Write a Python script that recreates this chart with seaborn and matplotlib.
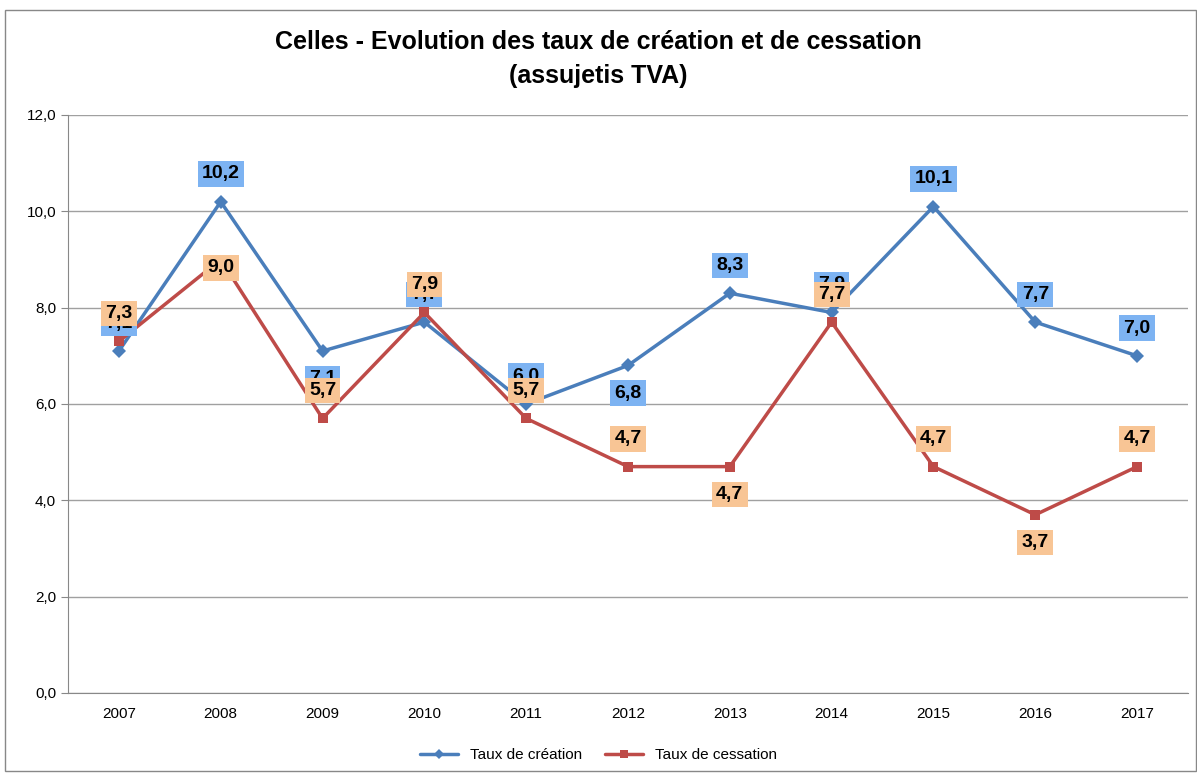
import pandas as pd
import numpy as np
import matplotlib
matplotlib.use("Agg")
import matplotlib.pyplot as plt
import seaborn as sns
from matplotlib.patches import Rectangle

# Données
annees = ['2007', '2008', '2009', '2010', '2011', '2012', '2013', '2014', '2015', '2016', '2017']
taux_creation = [7.1, 10.2, 7.1, 7.7, 6.0, 6.8, 8.3, 7.9, 10.1, 7.7, 7.0]
taux_cessation = [7.3, 9.0, 5.7, 7.9, 5.7, 4.7, 4.7, 7.7, 4.7, 3.7, 4.7]

# Position des étiquettes (1 = au-dessus, -1 = en dessous)
pos_creation = [1, 1, -1, 1, 1, -1, 1, 1, 1, 1, 1]
pos_cessation = [1, -0.3, 1, 1, 1, 1, -1, 1, 1, -1, 1]

df = pd.DataFrame({
    'annee': annees * 2,
    'taux': taux_creation + taux_cessation,
    'serie': ['Taux de création'] * len(annees) + ['Taux de cessation'] * len(annees),
})

sns.set_style("white")
plt.rcParams['font.family'] = ['Liberation Sans', 'DejaVu Sans']
plt.rcParams['text.color'] = 'black'
plt.rcParams['xtick.labelcolor'] = 'black'
plt.rcParams['ytick.labelcolor'] = 'black'

couleurs = {'Taux de création': '#4A7EBB', 'Taux de cessation': '#BE4B48'}
marqueurs = {'Taux de création': 'D', 'Taux de cessation': 's'}

fig = plt.figure(figsize=(11.97, 7.73), dpi=100)
ax = fig.add_axes([68 / 1197, 1 - 693 / 773, (1188 - 68) / 1197, (693 - 115) / 773])

sns.lineplot(data=df, x='annee', y='taux', hue='serie', style='serie',
             palette=couleurs, markers=marqueurs, dashes=False, linewidth=2.5,
             markersize=7, markeredgewidth=0, ax=ax, sort=False)

ax.set_ylim(0, 12)
ax.set_xlim(-0.5, len(annees) - 0.5)
ax.set_yticks(np.arange(0, 12.1, 2))
ax.set_yticklabels([f"{v:.1f}".replace('.', ',') for v in np.arange(0, 12.1, 2)], fontsize=11)
ax.set_xticks(range(len(annees)))
ax.set_xticklabels(annees, fontsize=11)
ax.set_xticks(np.arange(-0.5, len(annees)), minor=True)
ax.tick_params(axis='x', which='major', length=0, pad=10)
ax.tick_params(axis='x', which='minor', length=5, color='#888888')
ax.tick_params(axis='y', length=5, color='#888888', left=True)
ax.yaxis.grid(True, color='#a0a0a0', linewidth=1)
ax.set_axisbelow(True)
for s in ['top', 'right']:
    ax.spines[s].set_visible(False)
for s in ['left', 'bottom']:
    ax.spines[s].set_color('#888888')
ax.set_xlabel('')
ax.set_ylabel('')

# Étiquettes de données
def etiquettes(valeurs, positions, fond):
    for i, (v, p) in enumerate(zip(valeurs, positions)):
        ax.annotate(f"{v:.1f}".replace('.', ','), (i, v), xytext=(0, 20 * p),
                    textcoords='offset points', ha='center', va='center',
                    fontsize=14, fontweight='bold', color='black',
                    bbox=dict(boxstyle='square,pad=0.22', fc=fond, ec='none'))

etiquettes(taux_creation, pos_creation, '#7DB3F2')
etiquettes(taux_cessation, pos_cessation, '#F8C595')

ax.legend_.remove()
handles, labels = ax.get_legend_handles_labels()
fig.legend(handles, labels, loc='center', bbox_to_anchor=(0.5, 1 - 755 / 773),
           ncol=2, frameon=False, fontsize=11, handlelength=2.5, columnspacing=1.5,
           markerscale=0.8)

fig.text(0.5, 1 - 42 / 773, "Celles - Evolution des taux de création et de cessation",
         ha='center', va='center', fontsize=18, fontweight='bold')
fig.text(0.5, 1 - 76 / 773, "(assujetis TVA)", ha='center', va='center',
         fontsize=18, fontweight='bold')

# Cadre du graphique
fig.patches.append(Rectangle((5 / 1197, 0.002), 1 - 6 / 1197, 1 - 12 / 773,
                             transform=fig.transFigure, fill=False,
                             ec='#888888', lw=1))

fig.savefig('out.png', dpi=100)
